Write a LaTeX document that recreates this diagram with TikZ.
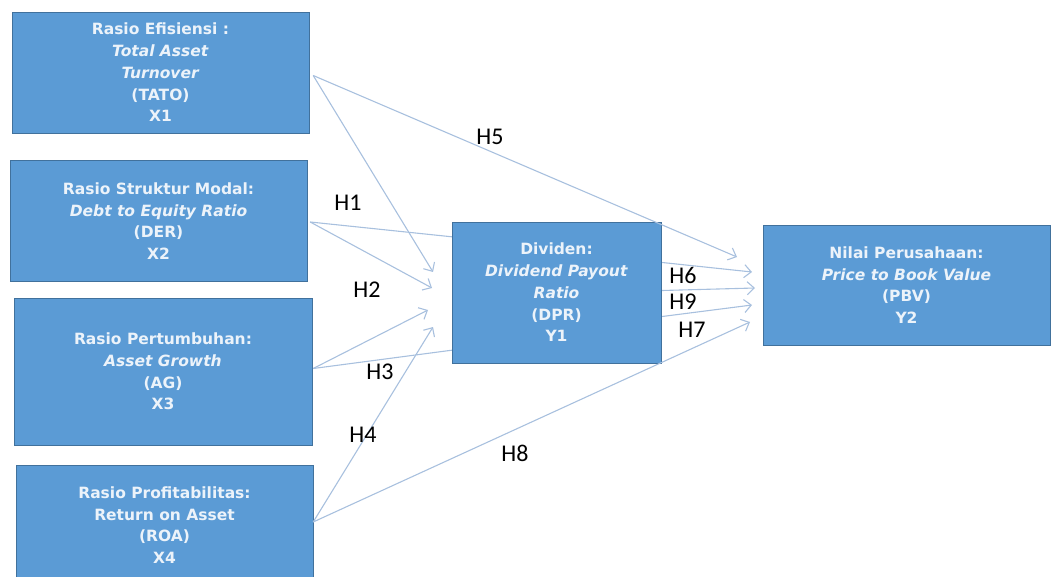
\documentclass[tikz,border=0pt]{standalone}
\usepackage{fontspec}
\setmainfont{Carlito}
\newfontfamily\boxfont{DejaVu Sans}
\usetikzlibrary{arrows.meta,calc}
\definecolor{boxblue}{RGB}{91,155,213}
\definecolor{boxedge}{RGB}{65,113,156}
\definecolor{linkblue}{RGB}{168,192,222}
\definecolor{boxtext}{RGB}{236,243,250}

\begin{document}
\begin{tikzpicture}[x=1pt, y=-1pt,
  var/.style = {shape=rectangle, draw=boxedge, fill=boxblue, text=boxtext,
    align=center, inner sep=0pt,
    font=\boxfont\bfseries\fontsize{15.5}{21.75}\selectfont},
  link/.style = {draw=linkblue, line width=1.1pt},
  hyp/.style = {link, -{Straight Barb[length=7pt,width=13pt]}},
  hlabel/.style = {font=\fontsize{24}{24}\selectfont, inner sep=0pt}]

\useasboundingbox (0,0) rectangle (1052,577);
\clip (0,0) rectangle (1052,577);

% Independent variables
\node[var, minimum width=297, minimum height=121] (x1) at (160.5,72.5)
  {Rasio Efisiensi :\\ \textit{Total Asset}\\ \textit{Turnover}\\ (TATO)\\ X1};
\node[var, minimum width=297, minimum height=121] (x2) at (158.5,221)
  {Rasio Struktur Modal:\\ \textit{Debt to Equity Ratio}\\ (DER)\\ X2};
\node[var, minimum width=298, minimum height=147] (x3) at (163,371.5)
  {Rasio Pertumbuhan:\\ \textit{Asset Growth}\\ (AG)\\ X3};
\node[var, minimum width=297, minimum height=120] (x4) at (164.5,525)
  {Rasio Profitabilitas:\\ Return on Asset\\ (ROA)\\ X4};

% Intervening and dependent variables
\node[var, minimum width=209, minimum height=141] (y1) at (556.5,292.5)
  {Dividen:\\ \textit{Dividend Payout}\\ \textit{Ratio}\\ (DPR)\\ Y1};
\node[var, minimum width=287, minimum height=120] (y2) at (906.5,285)
  {Nilai Perusahaan:\\ \textit{Price to Book Value}\\ (PBV)\\ Y2};

% Arrow tips
\coordinate (t1) at (433,272);
\coordinate (t2) at (432,288);
\coordinate (t3) at (428,310);
\coordinate (t4) at (433,327);
\coordinate (r5) at (737,257);
\coordinate (r6) at (752,272);
\coordinate (r9) at (755,288);
\coordinate (r7) at (752,305);
\coordinate (r8) at (750,322);

% Connectors
\draw[hyp] ($(x1.east)+(4,3)$) -- (t1);
\draw[hyp] ($(x1.east)+(4,3)$) -- (r5);
\draw[link] ($(x2.east)+(3,1)$) -- ($(y1.north west)+(0,15)$);
\draw[hyp] ($(x2.east)+(3,1)$) -- (t2);
\draw[hyp] ($(x3.east)+(1,-3)$) -- (t3);
\draw[link] ($(x3.east)+(1,-3)$) -- ($(y1.south west)+(0,-13)$);
\draw[hyp] ($(x4.east)+(0,-3)$) -- (t4);
\draw[hyp] ($(x4.east)+(0,-3)$) -- (r8);
\draw[hyp] ($(y1.east)+(1,-30)$) -- (r6);
\draw[hyp] ($(y1.east)+(1,-2)$) -- (r9);
\draw[hyp] ($(y1.east)+(1,24)$) -- (r7);

% Hypothesis labels
\node[hlabel] (h1) at (348,203) {H1};
\node[hlabel] (h2) at (367,290) {H2};
\node[hlabel] (h3) at (380,372) {H3};
\node[hlabel] (h4) at (363,435) {H4};
\node[hlabel] (h5) at (490,137) {H5};
\node[hlabel] (h6) at (683,275) {H6};
\node[hlabel] (h9) at (683,302) {H9};
\node[hlabel] (h7) at (692,330) {H7};
\node[hlabel] (h8) at (515,453) {H8};
\end{tikzpicture}
\end{document}
